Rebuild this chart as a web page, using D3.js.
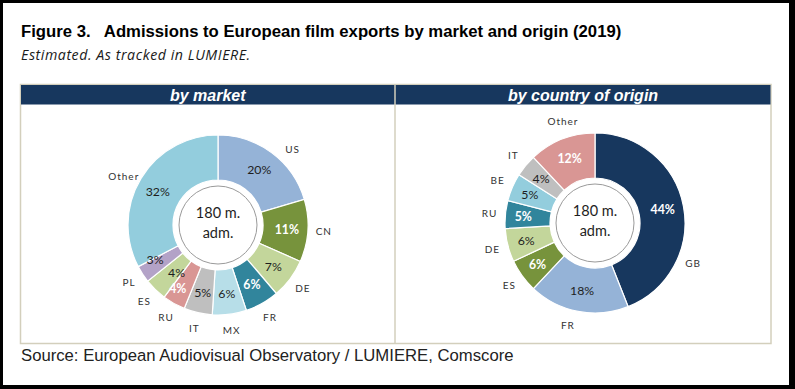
<!DOCTYPE html>
<html><head><meta charset="utf-8">
<script src="https://cdn.jsdelivr.net/npm/d3@7/dist/d3.min.js"></script>
<style>html,body{margin:0;padding:0;background:#000;}svg{display:block;}</style>
</head><body>
<svg id="chart" width="795" height="389"></svg>
<script>
// ---- data ----
const marketCategories = ["US","CN","DE","FR","MX","IT","RU","ES","PL","Other"];
const marketValues     = [20, 11, 7, 6, 6, 5, 4, 4, 3, 32];
const originCategories = ["GB","FR","ES","DE","RU","BE","IT","Other"];
const originValues     = [44, 18, 6, 6, 5, 5, 4, 12];
const centerLines = ["180 m.", "adm."];

// ---- styles ----
const marketColors = ["#95b3d7","#77933c","#c3d69b","#31859c","#b7dee8","#bfbfbf","#d99694","#c3d69b","#b3a2c7","#93cddd"];
const marketLabelWhite = [false,true,false,true,false,false,true,false,false,false];
const originColors = ["#17375e","#95b3d7","#77933c","#c3d69b","#31859c","#93cddd","#bfbfbf","#d99694"];
const originLabelWhite = [true,false,true,false,true,false,false,true];
// angular nudges (deg) for outside category labels (Excel best-fit placement)
const marketLabelNudge = [8,0,0,0,0,0,0,0,0,-4];
const originLabelNudge = [33,4,0,0,0,0,0,4];
// nudges for inside percentage labels: [deg, radius]
const marketPctNudge = [[0,69],[0,69],[0,69],[0,69],[0,69],[0,69],[3,75],[-3,63],[4,72],[-2,69]];
const originPctNudge = [[0,69],[0,69],[0,71],[0,71],[0,72],[0,71],[0,70],[0,69]];

const svg = d3.select("#chart");
svg.append("rect").attr("x",3).attr("y",3).attr("width",786).attr("height",382).attr("fill","#fff");

svg.append("text").attr("x",21).attr("y",37)
  .attr("font-family","Liberation Sans, Arial, sans-serif").attr("font-weight","bold").attr("font-size",16.7)
  .attr("fill","#000").attr("xml:space","preserve")
  .text("Figure 3.   Admissions to European film exports by market and origin (2019)");
svg.append("text").attr("x",21).attr("y",60)
  .attr("font-family","Open Sans, sans-serif").attr("font-style","italic").attr("font-size",14.2)
  .attr("letter-spacing",0.55)
  .attr("fill","#1a1a1a").text("Estimated. As tracked in LUMIERE.");
svg.append("text").attr("x",21).attr("y",361)
  .attr("font-family","Liberation Sans, Arial, sans-serif").attr("font-size",16.7)
  .attr("fill","#222").text("Source: European Audiovisual Observatory / LUMIERE, Comscore");

// panel
const px0 = 20.5, px1 = 771, py0 = 84.5, py1 = 343.5, pmid = 395;
svg.append("rect").attr("x",px0).attr("y",py0).attr("width",px1-px0).attr("height",py1-py0)
  .attr("fill","none").attr("stroke","#d3cfbc").attr("stroke-width",1.5);
svg.append("rect").attr("x",px0+0.5).attr("y",py0+0.5).attr("width",px1-px0-1).attr("height",19.5)
  .attr("fill","#17375e");
svg.append("line").attr("x1",pmid).attr("x2",pmid).attr("y1",py0).attr("y2",py1)
  .attr("stroke","#d3cfbc").attr("stroke-width",1.5);
const headers = [{t:"by market", x:(px0+pmid)/2}, {t:"by country of origin", x:(pmid+px1)/2}];
svg.selectAll(".hdr").data(headers).join("text").attr("class","hdr")
  .attr("x",d=>d.x).attr("y",100.5).attr("text-anchor","middle")
  .attr("font-family","Liberation Sans, Arial, sans-serif").attr("font-weight","bold").attr("font-style","italic")
  .attr("font-size",16).attr("fill","#fff").text(d=>d.t);

function donut(cx, cy, cats, vals, colors, white, nudge, pctNudge) {
  const g = svg.append("g").attr("transform",`translate(${cx},${cy})`);
  const rOuter = 90, rInner = 45;
  const pie = d3.pie().sort(null).value(d=>d.v);
  const arcs = pie(cats.map((c,i)=>({c, v:vals[i], col:colors[i], w:white[i], n:nudge[i], p:pctNudge[i]})));
  const arc = d3.arc().innerRadius(rInner).outerRadius(rOuter);
  g.selectAll("path").data(arcs).join("path").attr("d",arc)
    .attr("fill",d=>d.data.col).attr("stroke","#fff").attr("stroke-width",1.2);
  const polar = (a, r) => `translate(${r*Math.sin(a)},${-r*Math.cos(a)})`;
  g.selectAll(".pct").data(arcs).join("text").attr("class","pct")
    .attr("transform",d=>polar((d.startAngle+d.endAngle)/2 + d.data.p[0]*Math.PI/180, d.data.p[1]))
    .attr("dy","0.35em").attr("text-anchor","middle")
    .attr("font-family","Lato, sans-serif").attr("font-size",12.3)
    .attr("font-weight",d=>d.data.w?"bold":"normal")
    .attr("fill",d=>d.data.w?"#fff":"#1e1e1e").text(d=>d.data.v+"%");
  g.selectAll(".cat").data(arcs).join("text").attr("class","cat")
    .attr("transform",d=>polar((d.startAngle+d.endAngle)/2 + d.data.n*Math.PI/180, 106))
    .attr("dy","0.35em").attr("text-anchor","middle")
    .attr("font-family","Lato, sans-serif").attr("font-size",10).attr("letter-spacing",1)
    .attr("fill","#333").text(d=>d.data.c);
  g.append("circle").attr("r",39).attr("fill","#fff").attr("stroke","#9a9a9a").attr("stroke-width",1);
  g.selectAll(".ctr").data(centerLines).join("text").attr("class","ctr")
    .attr("x",0).attr("y",(d,i)=>-7+i*20).attr("text-anchor","middle")
    .attr("font-family","Lato, sans-serif").attr("font-size",14.5).attr("fill","#1e1e1e").text(d=>d);
}
donut(218, 225, marketCategories, marketValues, marketColors, marketLabelWhite, marketLabelNudge, marketPctNudge);
donut(595, 223, originCategories, originValues, originColors, originLabelWhite, originLabelNudge, originPctNudge);
</script>
</body></html>
